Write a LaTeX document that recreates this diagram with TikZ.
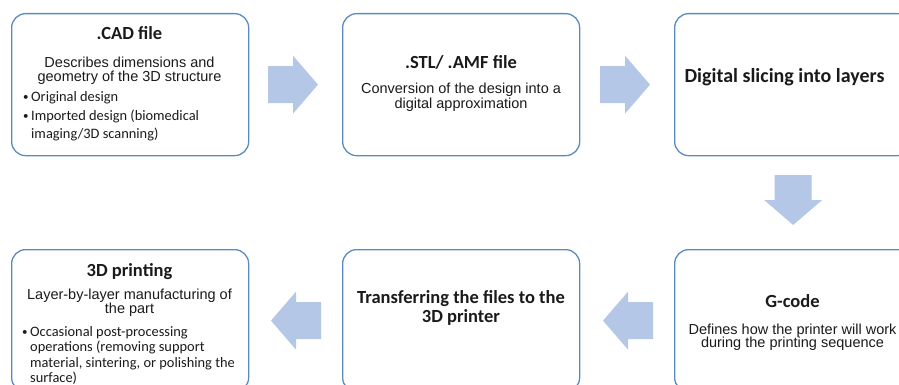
\documentclass[tikz,border=0pt]{standalone}
\usepackage{fontspec}
\setmainfont{Liberation Sans}
\newfontfamily\headfont{Carlito}
\usetikzlibrary{calc}
\definecolor{boxblue}{HTML}{5A8AC0}
\definecolor{arrowblue}{HTML}{B4C7E7}
\definecolor{ink}{HTML}{1A1A1A}
\begin{document}
\begin{tikzpicture}[x=1pt,y=-1pt,
  box/.style={draw=boxblue, line width=1.3pt, rounded corners=14pt,
    minimum width=237pt, minimum height=142pt, anchor=north west, inner sep=0pt},
  head/.style={font=\headfont\bfseries\fontsize{18.5}{20}\selectfont, text=ink, inner sep=0pt, anchor=base},
  slicehead/.style={font=\headfont\bfseries\fontsize{20}{22}\selectfont, text=ink, inner sep=0pt, anchor=base},
  body/.style={font=\fontsize{14.5}{16}\selectfont, text=ink, inner sep=0pt, anchor=base},
  bul/.style={font=\headfont\fontsize{14.4}{16}\selectfont, text=ink, inner sep=0pt, anchor=base west},
  dot/.style={font=\headfont\fontsize{11}{12}\selectfont, text=ink, inner sep=0pt, anchor=base west},
  blockarrow/.pic={\fill[arrowblue] (0,0) -- (-25,-29) -- (-25,-18.5) -- (-50,-18.5)
      -- (-50,18.5) -- (-25,18.5) -- (-25,29) -- cycle;}
]
\useasboundingbox (0,0) rectangle (899,385);
\clip (0,0) rectangle (899,385);

% process boxes
\node[box] (cad)      at (11,13)   {};
\node[box] (stl)      at (342,13)  {};
\node[box] (slice)    at (674,13)  {};
\node[box] (print)    at (11,249)  {};
\node[box] (transfer) at (342,249) {};
\node[box] (gcode)    at (674,249) {};

% block arrows between the steps
\pic[rotate=0]   (a1) at ($(stl.west)+(-24,0)$)      {blockarrow};
\pic[rotate=0]   (a2) at ($(slice.west)+(-24,0)$)    {blockarrow};
\pic[rotate=-90] (a3) at ($(gcode.north)+(0,-24)$)   {blockarrow};
\pic[rotate=180] (a4) at ($(gcode.west)+(-71,0)$)    {blockarrow};
\pic[rotate=180] (a5) at ($(transfer.west)+(-71,0)$) {blockarrow};

% .CAD file
\node[head] (cadH) at (129.5,40) {.CAD file};
\node[body] (cadB1) at (129.5,68) {Describes dimensions and};
\node[body] (cadB2) at (129.5,82) {geometry of the 3D structure};
\node[dot] (cadD1) at (23,101) {•};
\node[bul] (cadL1) at (31,102) {Original design};
\node[dot] (cadD2) at (23,120) {•};
\node[bul] (cadL2) at (31,121) {Imported design (biomedical};
\node[bul] (cadL3) at (31,139) {imaging/3D scanning)};

% .STL / .AMF file
\node[head] (stlH) at (461,69) {.STL/ .AMF file};
\node[body] (stlB1) at (461,94) {Conversion of the design into a};
\node[body] (stlB2) at (461,109) {digital approximation};

% slicing
\node[slicehead] (sliceH) at (784.5,83) {Digital slicing into layers};

% G-code
\node[head] (gcodeH) at (792.5,307) {G-code};
\node[body] (gcodeB1) at (792.5,334) {Defines how the printer will work};
\node[body] (gcodeB2) at (792.5,347) {during the printing sequence};

% transfer
\node[head] (trH1) at (461,303) {Transferring the files to the};
\node[head] (trH2) at (461,322) {3D printer};

% 3D printing
\node[head] (prH) at (129.5,276) {3D printing};
\node[body] (prB1) at (129.5,299) {Layer-by-layer manufacturing of};
\node[body] (prB2) at (129.5,313) {the part};
\node[dot] (prD1) at (22,335) {•};
\node[bul] (prL1) at (30,336) {Occasional post-processing};
\node[bul] (prL2) at (30,351) {operations (removing support};
\node[bul] (prL3) at (30,367) {material, sintering, or polishing the};
\node[bul] (prL4) at (30,382) {surface)};
\end{tikzpicture}
\end{document}
